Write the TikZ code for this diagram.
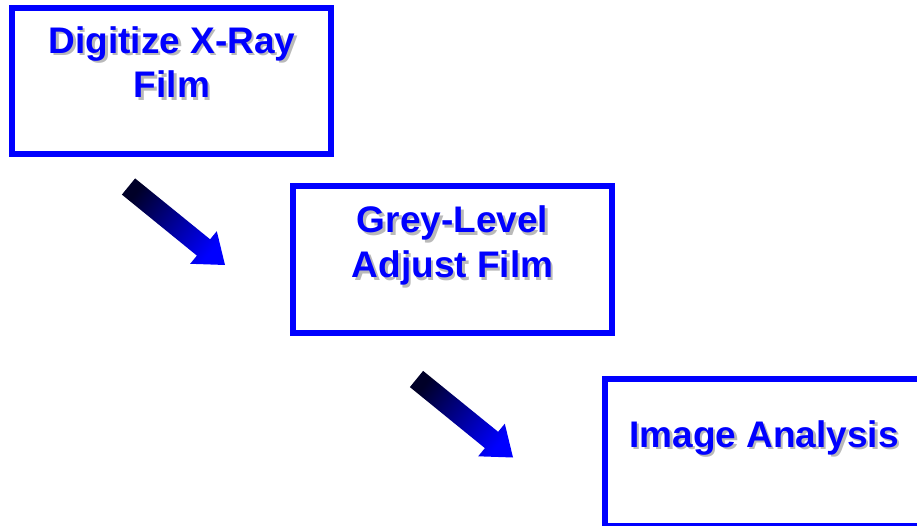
\documentclass[tikz,border=0pt]{standalone}
\usepackage{fontspec}
\setmainfont{Liberation Sans}
\definecolor{boxblue}{RGB}{0,0,255}
\definecolor{navydark}{RGB}{0,0,40}
\definecolor{shadowgrey}{RGB}{185,185,185}
\tikzset{
  stepbox/.style={draw=boxblue, line width=6pt, rectangle, inner sep=0pt,
                  minimum width=319pt, minimum height=146pt},
  steptext/.style={text=boxblue, font=\fontsize{37}{44.5}\selectfont\bfseries,
                   align=center, inner sep=0pt, anchor=base},
  stepshadow/.style={steptext, text=shadowgrey},
  blockarrow/.style={top color=boxblue, bottom color=navydark, shading angle=-129}
}
% label with a soft drop shadow beneath it
\newcommand\shadowlabel[3]{%
  \node[stepshadow] at ([shift={(2.5,2.5)}]#2) {#3};
  \node[steptext] (#1) at (#2) {#3};
}
\begin{document}
\begin{tikzpicture}[x=1pt,y=-1pt]
  \useasboundingbox (0,0) rectangle (917,526);
  \clip (0,0) rectangle (917,526);

  % process boxes
  \node[stepbox] (digitize) at (171.5,81) {};
  \node[stepbox] (grey) at (452.5,259.5) {};
  \node[stepbox, minimum height=147pt] (analysis) at (764.5,452) {};

  % box labels
  \shadowlabel{digitizeA}{172,53.5}{Digitize X-Ray}
  \shadowlabel{digitizeB}{172,98}{Film}
  \shadowlabel{greyA}{452.5,233}{Grey-Level}
  \shadowlabel{greyB}{452.5,277.5}{Adjust Film}
  \shadowlabel{analysisA}{764,447}{Image Analysis}

  % block arrows between the steps
  \foreach \dx/\dy in {0/0, 288/192.5}{
    \begin{scope}[shift={(\dx,\dy)}]
      \shade[blockarrow] (135.1,178.4) -- (210.1,239.3) -- (216.8,231.2)
        -- (225,265) -- (190.2,263.8) -- (196.9,255.6) -- (121.9,194.6) -- cycle;
    \end{scope}
  }
\end{tikzpicture}
\end{document}
